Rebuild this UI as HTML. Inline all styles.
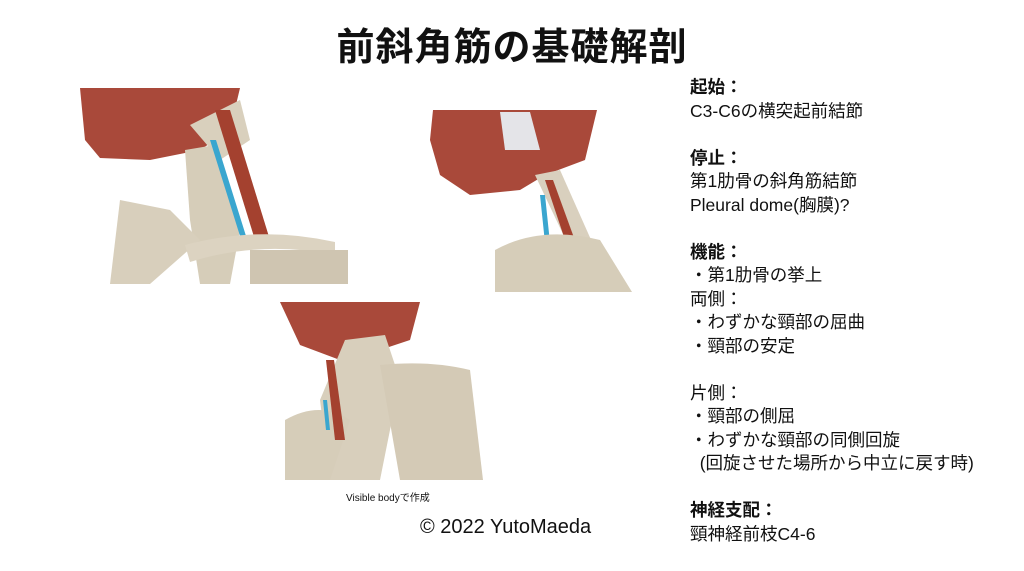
<!DOCTYPE html>
<html><head><meta charset="utf-8"><style>
body{margin:0;width:1024px;height:571px;background:#fff;overflow:hidden;position:relative;font-family:"Liberation Sans","Noto Sans CJK JP",sans-serif;color:#111}
.t{position:absolute;left:0;width:1024px;top:16px;text-align:center;font-size:38px;font-weight:bold;letter-spacing:1px}
.r{position:absolute;left:690px;top:76px;font-size:17.5px;line-height:23.5px;white-space:pre}
.b{font-weight:bold}
.cap{position:absolute;left:346px;top:489px;font-size:10px}
.cp{position:absolute;left:420px;top:516px;font-size:20px}
svg{position:absolute;left:0;top:0}
</style></head><body>
<div class="t">前斜角筋の基礎解剖</div>
<svg width="1024" height="571">
<g>
<path d="M80 88 H240 L230 130 L200 150 L150 160 L100 158 L85 140 Z" fill="#a9493a"/>
<path d="M190 125 L240 100 L250 140 L220 160 Z" fill="#d9d0bd"/>
<path d="M185 150 L215 145 L240 230 L230 284 L200 284 L190 220 Z" fill="#d6cdb9"/>
<path d="M215 110 L230 110 L270 240 L255 240 Z" fill="#a4412f"/>
<path d="M210 140 L216 140 L246 236 L240 236 Z" fill="#3aa6cf"/>
<path d="M120 200 L170 210 L200 240 L150 284 L110 284 Z" fill="#d8cfbc"/>
<path d="M185 245 Q260 225 335 242 L335 255 Q260 240 190 262 Z" fill="#dcd3c1"/>
<path d="M250 250 L348 250 L348 284 L250 284 Z" fill="#cfc5b1"/>
</g>
<g>
<path d="M433 110 H597 L585 160 L545 175 L520 190 L470 195 L440 175 L430 140 Z" fill="#a9493a"/>
<path d="M500 112 L530 112 L540 150 L505 150 Z" fill="#e4e4e8"/>
<path d="M535 175 L560 170 L600 260 L580 270 Z" fill="#d9d0be"/>
<path d="M545 180 L553 180 L585 268 L575 270 Z" fill="#a4412f"/>
<path d="M540 195 L545 195 L552 262 L547 262 Z" fill="#3aa6cf"/>
<path d="M495 250 Q540 225 600 240 L632 292 H495 Z" fill="#d6cdb9"/>
</g>
<g>
<path d="M280 302 H420 L410 340 L380 350 L340 360 L300 345 Z" fill="#a9493a"/>
<path d="M345 340 L385 335 L400 380 L380 480 L330 480 L320 400 Z" fill="#d8cfbc"/>
<path d="M380 365 Q430 360 470 370 L483 480 H400 Z" fill="#d4cab6"/>
<path d="M285 420 Q320 400 350 420 L330 480 H285 Z" fill="#d6cdb9"/>
<path d="M326 360 L334 360 L345 440 L335 440 Z" fill="#a4412f"/>
<path d="M323 400 L327 400 L330 430 L326 430 Z" fill="#3aa6cf"/>
</g>
</svg>
<div class="r"><span class="b">起始：</span>
C3-C6の横突起前結節

<span class="b">停止：</span>
第1肋骨の斜角筋結節
Pleural dome(胸膜)?

<span class="b">機能：</span>
・第1肋骨の挙上
両側：
・わずかな頸部の屈曲
・頸部の安定

片側：
・頸部の側屈
・わずかな頸部の同側回旋
  (回旋させた場所から中立に戻す時)

<span class="b">神経支配：</span>
頸神経前枝C4-6</div>
<div class="cap">Visible bodyで作成</div>
<div class="cp">© 2022 YutoMaeda</div>
</body></html>
